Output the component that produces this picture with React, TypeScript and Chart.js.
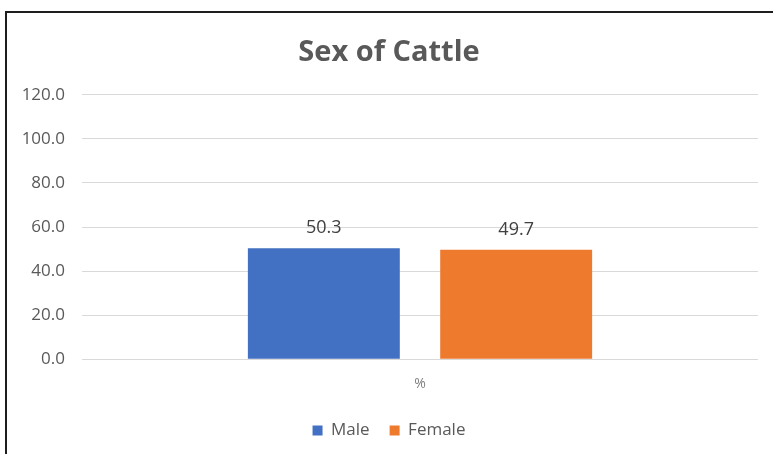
import React, { useEffect, useRef } from "react";
import { Chart, registerables } from "chart.js";

Chart.register(...registerables);

const categories = ["%"];
const maleValues = [50.3];
const femaleValues = [49.7];
const seriesNames = ["Male", "Female"];
const yTicks = [0, 20, 40, 60, 80, 100, 120];

const FONT = "'Open Sans', 'DejaVu Sans', sans-serif";

const valueLabels = {
  id: "valueLabels",
  afterDatasetsDraw(chart: any) {
    const ctx = chart.ctx;
    ctx.save();
    ctx.font = `18px ${FONT}`;
    ctx.fillStyle = "#404040";
    ctx.textAlign = "center";
    ctx.textBaseline = "bottom";
    chart.data.datasets.forEach((ds: any, i: number) => {
      const meta = chart.getDatasetMeta(i);
      meta.data.forEach((bar: any, j: number) => {
        const v = ds.data[j] as number;
        ctx.fillText(v.toFixed(1), bar.x, bar.y - 11);
      });
    });
    ctx.restore();
  },
};

export default function App() {
  const ref = useRef<HTMLCanvasElement | null>(null);
  useEffect(() => {
    if (!ref.current) return;
    const chart = new Chart(ref.current, {
      type: "bar",
      data: {
        labels: categories,
        datasets: [
          {
            label: seriesNames[0],
            data: maleValues,
            backgroundColor: "#4270c2",
            borderWidth: 0,
          },
          {
            label: seriesNames[1],
            data: femaleValues,
            backgroundColor: "#ee7a2e",
            borderWidth: 0,
          },
        ],
      },
      options: {
        animation: false,
        responsive: false,
        maintainAspectRatio: false,
        devicePixelRatio: 1,
        layout: { padding: { left: 20, right: 15, top: 0, bottom: 5 } },
        datasets: {
          bar: { categoryPercentage: 0.569, barPercentage: 0.79 },
        },
        plugins: {
          title: {
            display: true,
            text: "Sex of Cattle",
            color: "#595959",
            font: { family: FONT, size: 29, weight: "bold", lineHeight: 1.2 },
            padding: { top: 35, bottom: 25 },
          },
          legend: {
            display: true,
            position: "bottom",
            labels: {
              boxWidth: 10,
              boxHeight: 10,
              color: "#595959",
              font: { family: FONT, size: 17 },
              padding: 20,
            },
          },
          tooltip: { enabled: false },
        },
        scales: {
          x: {
            grid: { display: false, drawTicks: false },
            border: { display: false },
            afterFit(scale: any) {
              scale.height = scale.height - 6;
            },
            ticks: {
              color: "#7f7f7f",
              font: { family: FONT, size: 14 },
              padding: 16,
            },
          },
          y: {
            min: 0,
            max: 120,
            afterFit(scale: any) {
              scale.width = 62;
            },
            afterBuildTicks(scale: any) {
              scale.ticks = yTicks.map((v) => ({ value: v }));
            },
            grid: { color: "#d9d9d9", lineWidth: 1, drawTicks: false },
            border: { display: false },
            ticks: {
              color: "#595959",
              font: { family: FONT, size: 17 },
              padding: 17,
              callback: (v: any) => Number(v).toFixed(1),
            },
          },
        },
      },
      plugins: [valueLabels],
    });
    return () => chart.destroy();
  }, []);

  return (
    <div
      style={{
        position: "fixed",
        left: 0,
        top: 0,
        width: 773,
        height: 454,
        overflow: "hidden",
        background: "#ffffff",
      }}
    >
      <canvas ref={ref} width={773} height={454} style={{ position: "absolute", left: 0, top: 0 }} />
      <div
        style={{
          position: "absolute",
          left: 5,
          top: 11,
          width: 900,
          height: 600,
          borderLeft: "2px solid #1e1e1e",
          borderTop: "2px solid #1e1e1e",
          pointerEvents: "none",
        }}
      />
    </div>
  );
}
